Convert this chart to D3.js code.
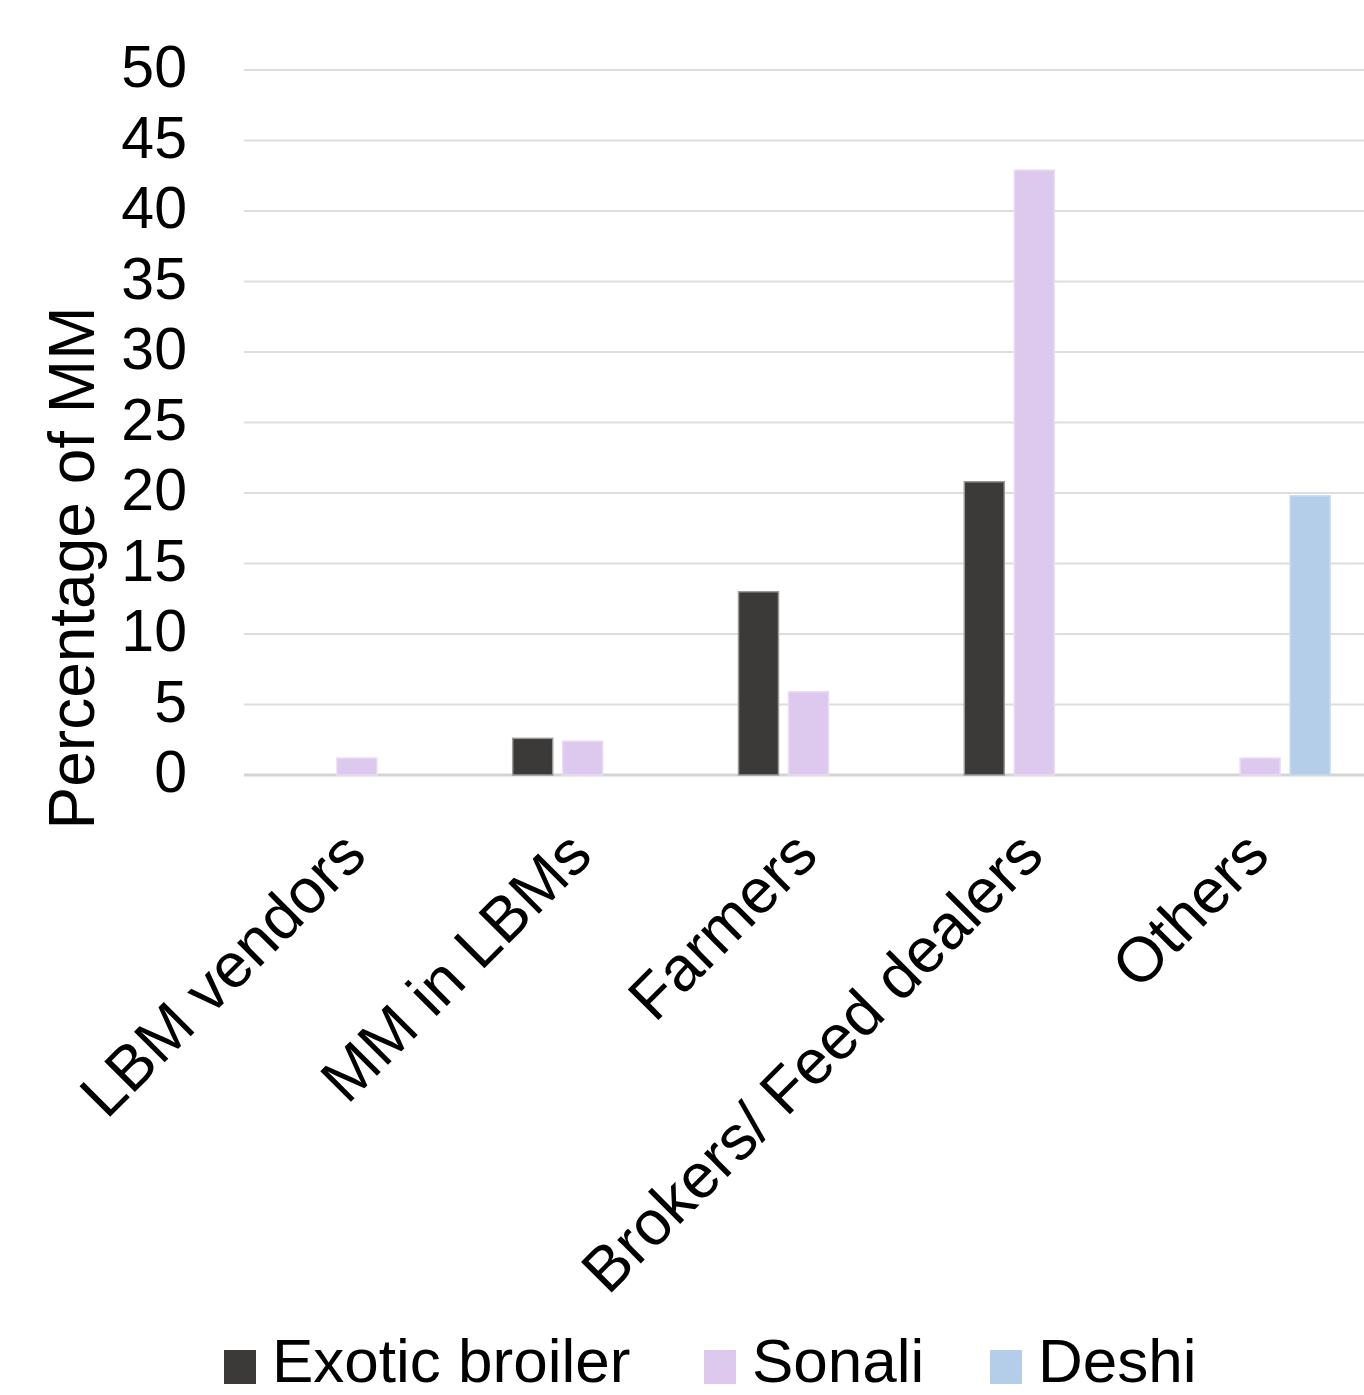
<!DOCTYPE html>
<html>
<head>
<meta charset="utf-8">
<script src="https://cdn.jsdelivr.net/npm/d3@7"></script>
<style>
  html, body { margin: 0; padding: 0; background: #ffffff; }
  svg { display: block; font-family: "Liberation Sans", Arial, sans-serif; }
</style>
</head>
<body>
<svg id="chart" width="1364" height="1395"></svg>
<script>
// Source categories of middlemen and the share (%) buying each chicken type
const categories = ["LBM vendors", "MM in LBMs", "Farmers", "Brokers/ Feed dealers", "Others"];
const seriesNames = ["Exotic broiler", "Sonali", "Deshi"];
const exoticBroiler = [0, 2.6, 13.0, 20.8, 0];
const sonali = [1.2, 2.4, 5.9, 42.9, 1.2];
const deshi = [0, 0, 0, 0, 19.8];
const yTicks = [0, 5, 10, 15, 20, 25, 30, 35, 40, 45, 50];

const seriesValues = [exoticBroiler, sonali, deshi];
const colors = { "Exotic broiler": "#3b3a38", "Sonali": "#ddc9ee", "Deshi": "#b4cee9" };
const strokes = { "Exotic broiler": "#9a9a9a", "Sonali": "#e9dcf4", "Deshi": "#c8dcf0" };

const svg = d3.select("#chart");
const W = 1364;

const plotLeft = 244, plotTop = 70, plotBottom = 775;
const step = 225.8;

const x0 = d3.scaleBand()
  .domain(categories)
  .range([plotLeft, plotLeft + step * categories.length])
  .padding(0);

const x1 = d3.scaleBand()
  .domain(seriesNames)
  .range([-70, 70])
  .paddingInner(0.2)
  .paddingOuter(0);

const y = d3.scaleLinear().domain([0, 50]).range([plotBottom, plotTop]);

// Horizontal gridlines
svg.append("g")
  .selectAll("line")
  .data(yTicks)
  .join("line")
  .attr("x1", plotLeft)
  .attr("x2", W)
  .attr("y1", d => y(d))
  .attr("y2", d => y(d))
  .attr("stroke", d => d === 0 ? "#d4d4d4" : "#dedede")
  .attr("stroke-width", d => d === 0 ? 3 : 2);

// Y axis tick labels
const yAxis = d3.axisLeft(y).tickValues(yTicks).tickSize(0).tickPadding(0);
const yG = svg.append("g").attr("transform", "translate(187,0)").call(yAxis);
yG.select(".domain").remove();
yG.selectAll("text")
  .attr("font-family", "'Liberation Sans', Arial, sans-serif")
  .attr("font-size", 59)
  .attr("fill", "#000")
  .attr("dy", "0.28em");

// Y axis title
svg.append("text")
  .attr("transform", "translate(94,568) rotate(-90)")
  .attr("text-anchor", "middle")
  .attr("font-size", 64)
  .attr("fill", "#000")
  .text("Percentage of MM");

// Grouped bars
const groups = svg.append("g")
  .selectAll("g")
  .data(categories)
  .join("g")
  .attr("transform", d => `translate(${x0(d) + x0.bandwidth() / 2},0)`);

groups.selectAll("rect")
  .data((c, i) => seriesNames.map((s, k) => ({ s, v: seriesValues[k][i] })).filter(d => d.v > 0))
  .join("rect")
  .attr("x", d => x1(d.s))
  .attr("width", x1.bandwidth())
  .attr("y", d => y(d.v))
  .attr("height", d => y(0) - y(d.v))
  .attr("fill", d => colors[d.s])
  .attr("stroke", d => strokes[d.s])
  .attr("stroke-width", 1.5);

// Category labels, rotated
svg.append("g")
  .selectAll("text")
  .data(categories)
  .join("text")
  .attr("transform", d => `translate(${x0(d) + x0.bandwidth() / 2 + 12},858) rotate(-45)`)
  .attr("text-anchor", "end")
  .attr("font-size", 63)
  .attr("fill", "#000")
  .text(d => d);

// Legend
const legendItems = [
  { name: "Exotic broiler", x: 224 },
  { name: "Sonali", x: 704 },
  { name: "Deshi", x: 990 }
];
const lg = svg.append("g");
legendItems.forEach(it => {
  lg.append("rect")
    .attr("x", it.x)
    .attr("y", 1350)
    .attr("width", 32)
    .attr("height", 34)
    .attr("fill", colors[it.name]);
  lg.append("text")
    .attr("x", it.x + 48)
    .attr("y", 1382)
    .attr("font-size", 62)
    .attr("fill", "#000")
    .text(it.name);
});
</script>
</body>
</html>
